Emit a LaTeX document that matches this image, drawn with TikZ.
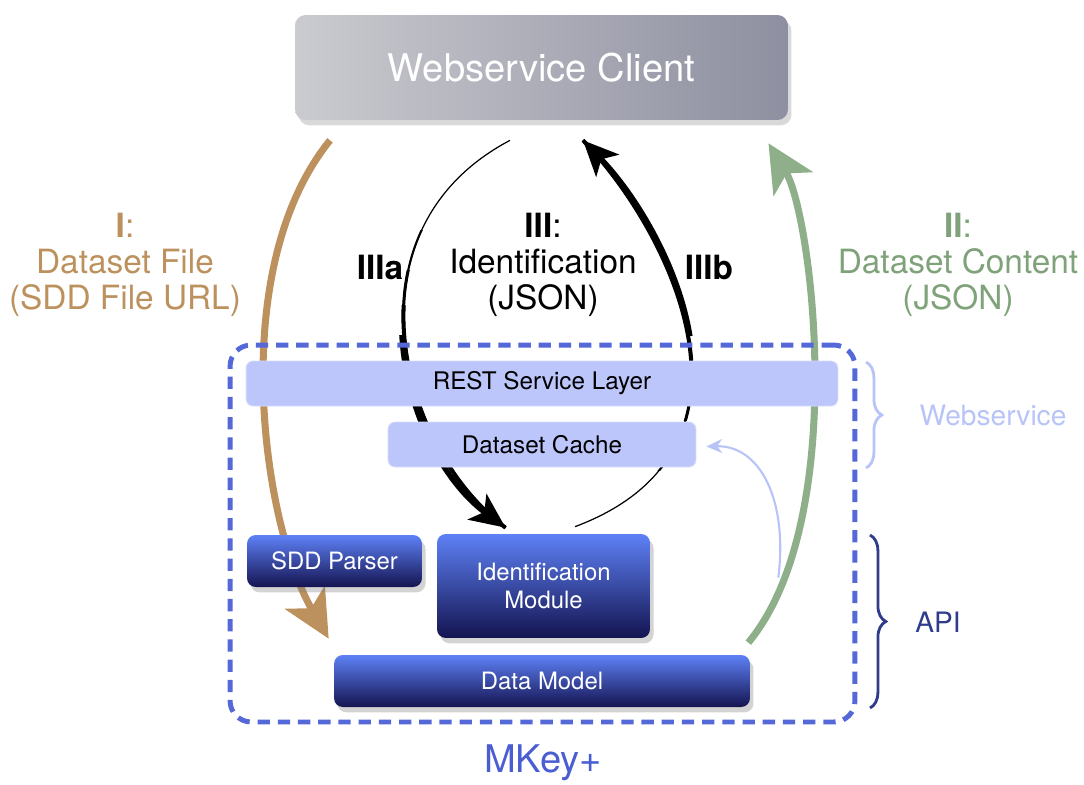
\documentclass[tikz,border=0pt]{standalone}
\usepackage{fontspec}
\setmainfont{TeX Gyre Heros}
\usetikzlibrary{arrows.meta, positioning, calc, backgrounds, shadows, decorations.pathreplacing}
\definecolor{clientlight}{HTML}{CACBCF}
\definecolor{clientdark}{HTML}{8E8FA0}
\definecolor{layerblue}{HTML}{BCC6FA}
\definecolor{moduletop}{HTML}{5E81F6}
\definecolor{modulebottom}{HTML}{141450}
\definecolor{frameblue}{HTML}{5468D8}
\definecolor{flowbrown}{HTML}{BC915E}
\definecolor{flowgreen}{HTML}{8EAF89}
\definecolor{labelgreen}{HTML}{7FA27A}
\definecolor{wstext}{HTML}{B8C4F8}
\definecolor{apinavy}{HTML}{2F3C8C}
\definecolor{mkeyblue}{HTML}{4A5ED2}

\begin{document}
\begin{tikzpicture}[
  x=0.02cm, y=-0.02cm,
  >=Stealth,
  font=\fontsize{13.8}{16}\selectfont,
  clientbox/.style={
    rectangle, rounded corners=6pt,
    minimum width=9.86cm, minimum height=2.1cm,
    left color=clientlight, right color=clientdark,
    text=white, font=\fontsize{21.7}{25}\selectfont,
    drop shadow={shadow xshift=2pt, shadow yshift=-3pt, opacity=0.3}
  },
  layerbox/.style={
    rectangle, rounded corners=4pt,
    minimum height=0.9cm,
    fill=layerblue, draw=layerblue!60!white, line width=0.5pt
  },
  modulebox/.style={
    rectangle, rounded corners=5pt,
    top color=moduletop, bottom color=modulebottom,
    text=white, align=center,
    font=\fontsize{13.6}{16}\selectfont,
    drop shadow={shadow xshift=2pt, shadow yshift=-3pt, opacity=0.35}
  },
  flowlabel/.style={
    align=center, font=\fontsize{19}{20.5}\selectfont
  },
  bigtip/.style={
    -{Stealth[length=27pt, width=26pt, inset=7pt]}
  },
  blacktip/.style={
    -{Stealth[length=20pt, width=18pt, inset=5pt]}
  },
  layerbrace/.style={
    decorate, decoration={brace, amplitude=9pt}, line width=1.6pt
  },
  mkeyframe/.style={
    rectangle, rounded corners=12pt,
    draw=frameblue, line width=2.8pt,
    dash pattern=on 7pt off 4.5pt
  }
]
\useasboundingbox (0,0) rectangle (1084,784);

% ── Client ────────────────────────────────────────────────────────────────
\node[clientbox] (client) at (541.5,67.5) {\raisebox{-2pt}{Webservice Client}};

% ── MKey+ frame ───────────────────────────────────────────────────────────
\node[mkeyframe, minimum width=12.5cm, minimum height=7.54cm]
  (frame) at (542.5,533.5) {};
\node[text=mkeyblue, font=\fontsize{21.7}{25}\selectfont]
  (mkey) at (543,763) {MKey+};

% ── Webservice layers ─────────────────────────────────────────────────────
\node[layerbox, minimum width=11.84cm] (rest)  at (542,383.5) {REST Service Layer};
\node[layerbox, minimum width=6.16cm]  (cache) at (542,444.5) {Dataset Cache};

% ── API modules ───────────────────────────────────────────────────────────
\node[modulebox, minimum width=3.5cm, minimum height=1.04cm]
  (parser) at (334.5,561) {SDD Parser};
\node[modulebox, minimum width=4.26cm, minimum height=2.08cm]
  (ident) at (543.5,586) {Identification\\Module};
\node[modulebox, minimum width=8.32cm, minimum height=1.04cm]
  (model) at (542,681) {Data Model};

% ── Flows ─────────────────────────────────────────────────────────────────
\begin{scope}[on background layer]
  % I: dataset file
  \draw[bigtip, line width=4pt, color=flowbrown]
    ($(client.south)+(-211.5,20)$) .. controls (225,270) and (263,525)
    .. ($(model.north west)+(-5,-16)$);
  % II: dataset content
  \draw[bigtip, line width=4pt, color=flowgreen]
    ($(model.north east)+(-2,-12)$) .. controls (850,520) and (812,215)
    .. ($(client.south)+(227,23)$);
  % cache update
  \draw[-{Stealth[length=9pt, width=8pt]}, line width=1.2pt, color=wstext]
    ($(model.north east)+(28,-77)$) .. controls (788,500) and (760,445)
    .. ($(cache.east)+(10,2)$);
  % IIIa, widening towards the module
  \foreach \cut/\lw in {0/0.7, 230/1.2, 270/1.7, 305/2.3} {
    \begin{scope}
      \clip (0,\cut) rectangle (1084,784);
      \draw[line width=\lw pt]
        ($(client.south)+(-31.5,20)$) .. controls (340,230) and (400,450)
        .. ($(ident.north)+(-38,-6)$);
    \end{scope}
  }
  \begin{scope}
    \clip (0,335) rectangle (1084,784);
    \draw[blacktip, line width=3pt]
      ($(client.south)+(-31.5,20)$) .. controls (340,230) and (400,450)
      .. ($(ident.north)+(-38,-6)$);
  \end{scope}
  % IIIb, widening towards the client
  \foreach \cut/\lw in {784/0.7, 470/1.2, 420/1.7, 380/2.3} {
    \begin{scope}
      \clip (0,0) rectangle (1084,\cut);
      \draw[line width=\lw pt]
        ($(ident.north)+(31.5,-7)$) .. controls (780,450) and (670,230)
        .. ($(client.south)+(41.5,20)$);
    \end{scope}
  }
  \begin{scope}
    \clip (0,0) rectangle (1084,335);
    \draw[blacktip, line width=3pt]
      ($(ident.north)+(31.5,-7)$) .. controls (780,450) and (670,230)
      .. ($(client.south)+(41.5,20)$);
  \end{scope}
\end{scope}

% ── Flow labels ───────────────────────────────────────────────────────────
\node[flowlabel, text=flowbrown] (labI) at (125,265)
  {\textbf{I}:\\Dataset File\\(SDD File URL)};
\node[flowlabel, text=labelgreen] (labII) at (958,265)
  {\textbf{II}:\\Dataset Content\\(JSON)};
\node[flowlabel] (labIII) at (543,265)
  {\textbf{III}:\\Identification\\(JSON)};
\node[flowlabel, font=\fontsize{19}{20.5}\selectfont\bfseries] (labIIIa) at (380,267) {IIIa};
\node[flowlabel, font=\fontsize{19}{20.5}\selectfont\bfseries] (labIIIb) at (709,267) {IIIb};

% ── Layer braces ──────────────────────────────────────────────────────────
\draw[layerbrace, color=wstext] (866,362) -- (866,468);
\node[text=wstext, font=\fontsize{16}{18}\selectfont] (wslabel) at (993,415) {Webservice};
\draw[layerbrace, color=apinavy] (870,535) -- (870,708);
\node[text=apinavy, font=\fontsize{16}{18}\selectfont] (apilabel) at (938,622) {API};

\end{tikzpicture}
\end{document}
